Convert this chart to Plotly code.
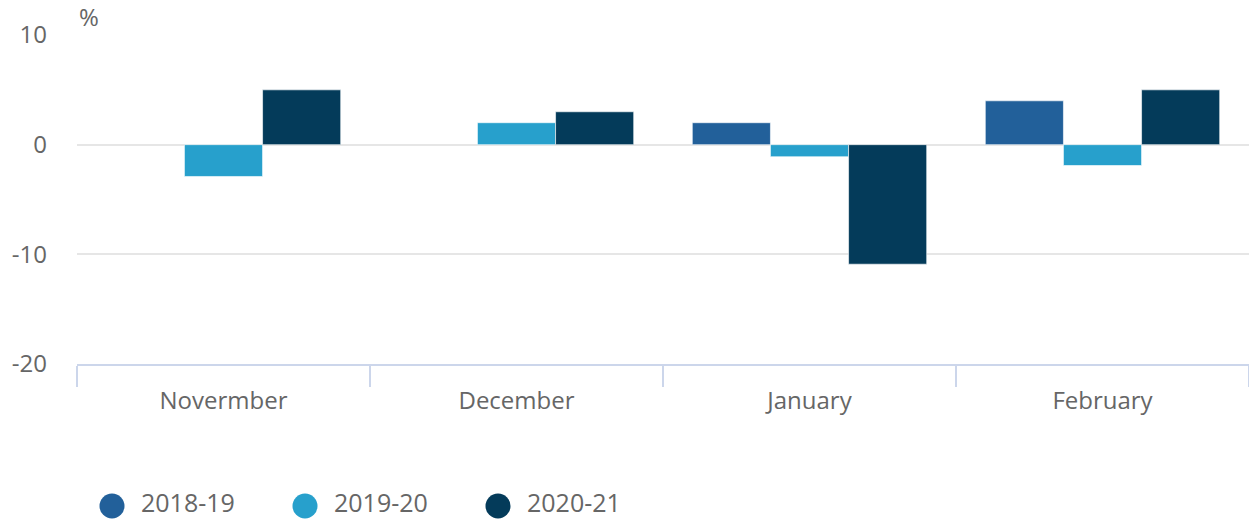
import plotly.graph_objects as go

months = ["Novermber", "December", "January", "February"]
series_names = ["2018-19", "2019-20", "2020-21"]
v_2018_19 = [None, None, 2.0, 4.0]
v_2019_20 = [-2.9, 2.0, -1.1, -1.9]
v_2020_21 = [5.0, 3.0, -10.9, 5.0]
colors = ["#22609a", "#27a0cc", "#043b5a"]
y_ticks = [-20, -10, 0, 10]
y_tick_text = ["-20", "-10", "0", "10"]

values = [v_2018_19, v_2019_20, v_2020_21]
FONT = "Open Sans"
TXT = "#666666"

W, H = 1249, 521
ML, MR, MT, MB = 77, 0, 35, 157
PW, PH = W - ML - MR, H - MT - MB

fig = go.Figure()
for name, vals, col in zip(series_names, values, colors):
    fig.add_trace(go.Bar(x=months, y=vals, name=name,
                         marker=dict(color=col, line=dict(color="#ffffff", width=0.6)),
                         showlegend=False))

# custom legend (large circles) below the plot
legend_px_x = [112, 305, 498]
legend_px_y = 506
text_px_y = 520  # bottom of the legend text box
shapes = []
annotations = []
for name, col, px in zip(series_names, colors, legend_px_x):
    xp = (px - ML) / PW
    yp = (H - MB - legend_px_y) / PH
    ytp = (H - MB - text_px_y) / PH
    shapes.append(dict(type="circle", xref="paper", yref="paper", xsizemode="pixel", ysizemode="pixel",
                       xanchor=xp, yanchor=yp, x0=-12.5, x1=12.5, y0=-12.5, y1=12.5,
                       fillcolor=col, line=dict(width=0)))
    annotations.append(dict(text=name, xref="paper", yref="paper", x=(px + 28 - ML) / PW, y=ytp,
                            xanchor="left", yanchor="bottom", showarrow=False, borderpad=0,
                            font=dict(size=25, color=TXT, family=FONT)))

annotations.append(dict(text="%", xref="paper", yref="paper", x=0, y=1, xanchor="left", yanchor="bottom",
                        showarrow=False, font=dict(size=24, color=TXT, family=FONT)))

fig.update_layout(
    width=W, height=H,
    margin=dict(l=ML, r=MR, t=MT, b=MB, autoexpand=False),
    paper_bgcolor="white", plot_bgcolor="white",
    font=dict(family=FONT, color=TXT, size=24),
    barmode="group", bargap=0.2, bargroupgap=0,
    showlegend=False,
    xaxis=dict(showgrid=False, showline=True, linecolor="#ccd6eb", linewidth=2,
               ticks="outside", tickson="boundaries", ticklen=21, tickcolor="#ccd6eb", tickwidth=2,
               tickfont=dict(size=24, color=TXT), ticklabelstandoff=14, automargin=False),
    yaxis=dict(range=[-20, 10], tickvals=y_ticks, ticktext=y_tick_text, showgrid=True,
               gridcolor="#e6e6e6", gridwidth=2, zeroline=False, showline=False, ticks="",
               ticklabelstandoff=29, tickfont=dict(size=24, color=TXT), automargin=False),
    shapes=shapes,
    annotations=annotations,
)

fig.write_html("out.html", config={"displayModeBar": False},
               post_script="document.body.style.margin='0';document.body.style.overflow='hidden';")
